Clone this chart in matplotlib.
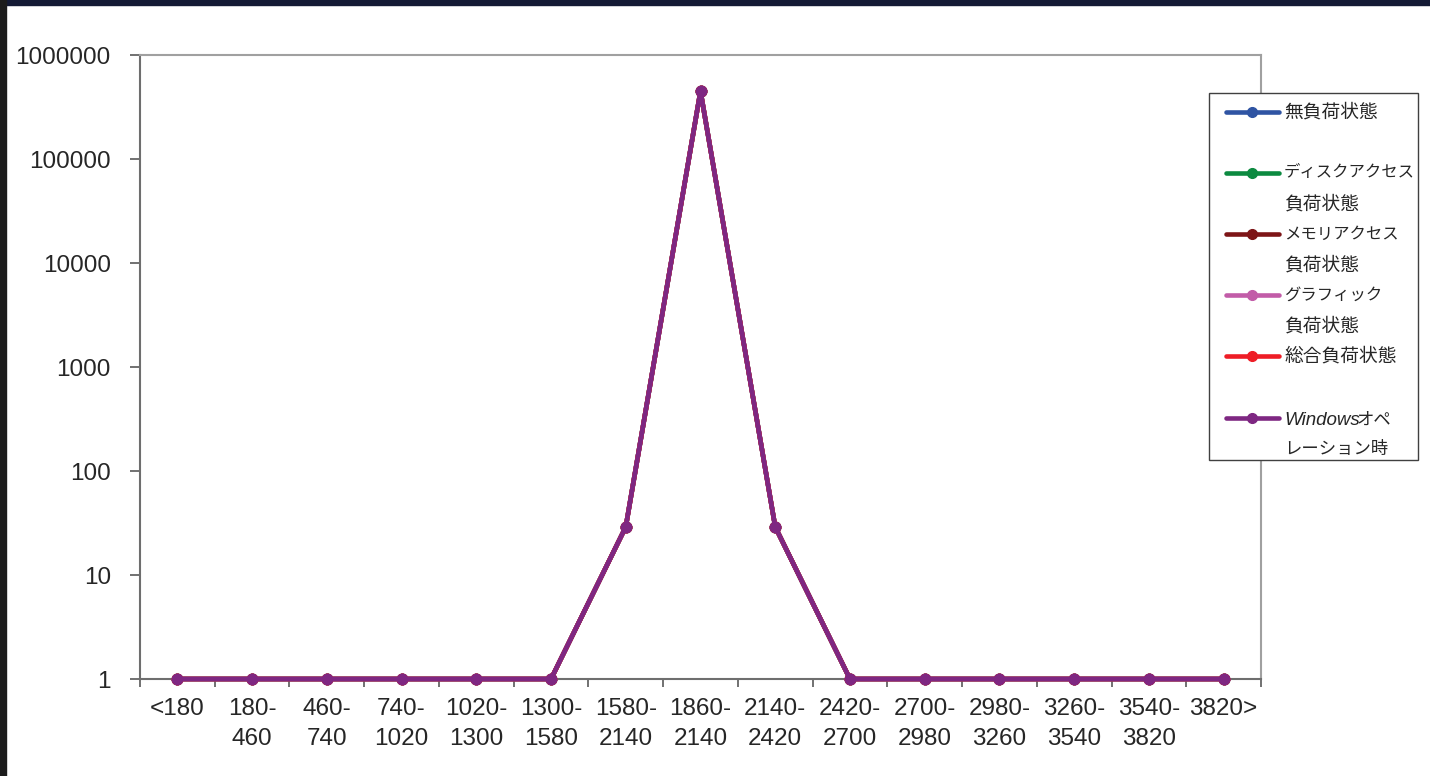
import numpy as np
import matplotlib
matplotlib.use("Agg")
import matplotlib.pyplot as plt
from matplotlib.lines import Line2D
from matplotlib.patches import Rectangle
from matplotlib.ticker import FixedLocator, NullFormatter

plt.rcParams['font.family'] = ['Liberation Sans', 'Noto Sans CJK JP', 'DejaVu Sans']

# data
categories = ["<180", "180-\n460", "460-\n740", "740-\n1020", "1020-\n1300", "1300-\n1580",
              "1580-\n2140", "1860-\n2140", "2140-\n2420", "2420-\n2700", "2700-\n2980",
              "2980-\n3260", "3260-\n3540", "3540-\n3820", "3820>"]
no_load = [1, 1, 1, 1, 1, 1, 29, 450000, 29, 1, 1, 1, 1, 1, 1]
disk_load = [1, 1, 1, 1, 1, 1, 29, 450000, 29, 1, 1, 1, 1, 1, 1]
memory_load = [1, 1, 1, 1, 1, 1, 29, 450000, 29, 1, 1, 1, 1, 1, 1]
graphic_load = [1, 1, 1, 1, 1, 1, 29, 450000, 29, 1, 1, 1, 1, 1, 1]
total_load = [1, 1, 1, 1, 1, 1, 29, 450000, 29, 1, 1, 1, 1, 1, 1]
windows_op = [1, 1, 1, 1, 1, 1, 29, 450000, 29, 1, 1, 1, 1, 1, 1]

series = [
    (no_load, "#2f54a3", [("無負荷状態", 13.5)]),
    (disk_load, "#0c8a40", [("ディスクアクセス", 11.8), ("負荷状態", 13.5)]),
    (memory_load, "#7d1517", [("メモリアクセス", 11.8), ("負荷状態", 13.5)]),
    (graphic_load, "#c25ca8", [("グラフィック", 11.8), ("負荷状態", 13.5)]),
    (total_load, "#ee1d26", [("総合負荷状態", 13.5)]),
    (windows_op, "#7e2782", None),
]

W, H = 1430, 776
fig = plt.figure(figsize=(W / 100, H / 100), dpi=100)
ax = fig.add_axes([140 / W, 1 - 679 / H, (1261 - 140) / W, (679 - 55) / H])

x = np.arange(len(categories))
for vals, col, _ in series:
    ax.plot(x, vals, color=col, lw=3.3, marker='o', ms=7.5, solid_capstyle='round',
            clip_on=False, zorder=3)

ax.set_yscale('log')
ax.set_ylim(1, 1e6)
ax.set_xlim(-0.5, len(categories) - 0.5)
yt = [1, 10, 100, 1000, 10000, 100000, 1000000]
ax.yaxis.set_major_locator(FixedLocator(yt))
ax.yaxis.set_minor_locator(FixedLocator([]))
ax.set_yticklabels([str(v) for v in yt])

ax.xaxis.set_major_locator(FixedLocator(np.arange(-0.5, len(categories), 1.0)))
ax.xaxis.set_major_formatter(NullFormatter())
ax.set_xticks(x, minor=True)
ax.set_xticklabels(categories, minor=True, linespacing=1.45)
ax.tick_params(axis='x', which='minor', length=0, pad=14, labelsize=17.5, colors='#262626')
ax.tick_params(axis='x', which='major', length=6, width=1.2, direction='out', color='#595959')
ax.tick_params(axis='y', length=7, width=1.2, direction='out', color='#595959',
               labelsize=17.5, labelcolor='#262626', pad=14)

for s in ['left', 'bottom']:
    ax.spines[s].set_color('#6e6e6e')
    ax.spines[s].set_linewidth(1.5)
for s in ['top', 'right']:
    ax.spines[s].set_color('#a0a0a0')
    ax.spines[s].set_linewidth(1.5)

# frame of the original page
fig.patches.append(Rectangle((0, 1 - 5 / H), 1, 5 / H, transform=fig.transFigure,
                             color='#141a35', zorder=10))
fig.patches.append(Rectangle((0, 0), 6 / W, 1, transform=fig.transFigure,
                             color='#1c1c1c', zorder=10))

# legend drawn manually
def fx(px):
    return px / W

def fy(py):
    return 1 - py / H

fig.patches.append(Rectangle((fx(1209), fy(460)), fx(1418) - fx(1209), fy(93) - fy(460),
                             transform=fig.transFigure, fill=True, facecolor='white',
                             edgecolor='#404040', lw=1.0, zorder=5))
rows = [112, 173, 234, 295, 356, 418]
lab_font = ['Noto Sans CJK JP', 'DejaVu Sans']
for (vals, col, lab), ry in zip(series, rows):
    fig.add_artist(Line2D([fx(1226), fx(1279)], [fy(ry), fy(ry)], transform=fig.transFigure,
                          color=col, lw=3.3, solid_capstyle='round', zorder=6))
    fig.add_artist(Line2D([fx(1252)], [fy(ry)], transform=fig.transFigure, color=col,
                          marker='o', ms=7, zorder=6))
    if lab is not None:
        for i, (line, fs) in enumerate(lab):
            fig.text(fx(1284), fy(ry + i * 31), line, family=lab_font, fontsize=fs,
                     color='#262626', va='center', ha='left', zorder=7)

t1 = fig.text(fx(1284), fy(425), "Windows", fontsize=13.5, style='italic',
              family=['Liberation Sans'], color='#262626', va='baseline', ha='left', zorder=7)
fig.add_artist(plt.Annotation("オペ", xy=(1, 0), xycoords=t1, xytext=(-2, 0),
                              textcoords='offset points', family=lab_font, fontsize=12.5,
                              color='#262626', va='bottom', ha='left', zorder=7))
fig.text(fx(1284), fy(449), "レーション時", family=lab_font, fontsize=12.5,
         color='#262626', va='center', ha='left', zorder=7)

fig.savefig("out.png", dpi=100)
